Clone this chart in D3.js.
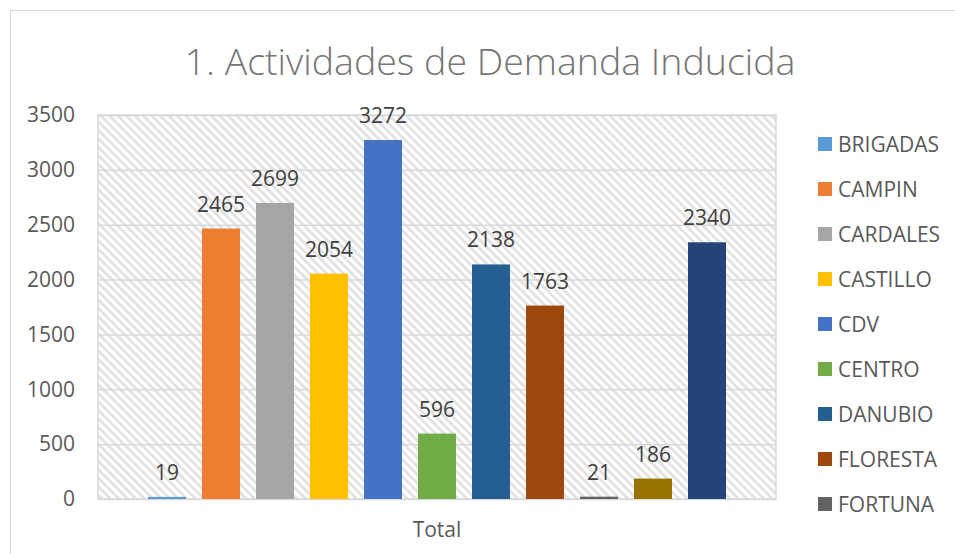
<!DOCTYPE html>
<html>
<head>
<meta charset="utf-8">
<script src="https://cdn.jsdelivr.net/npm/d3@7"></script>
<style>
  body { margin: 0; background: #fff; }
  text { font-family: "Open Sans", sans-serif; }
</style>
</head>
<body>
<svg width="955" height="554"></svg>
<script>
// datos
const titulo = "1. Actividades de Demanda Inducida";
const categorias = ["Total"];
const sedes = ["BRIGADAS", "CAMPIN", "CARDALES", "CASTILLO", "CDV", "CENTRO",
  "DANUBIO", "FLORESTA", "FORTUNA", "SEDE 10", "SEDE 11"];
const valores = [19, 2465, 2699, 2054, 3272, 596, 2138, 1763, 21, 186, 2340];
const colores = ["#5b9bd5", "#ed7d31", "#a5a5a5", "#ffc000", "#4472c4", "#70ad47",
  "#255e91", "#9e480e", "#636363", "#997300", "#264478"];
const yTicks = [0, 500, 1000, 1500, 2000, 2500, 3000, 3500];

const svg = d3.select("svg");

const plot = { left: 98, top: 115, right: 776, bottom: 499 };
const fs = "21px";

// marco del grafico (se sale por la derecha y abajo)
svg.append("rect")
  .attr("x", 10.5).attr("y", 10.5)
  .attr("width", 1000).attr("height", 600)
  .attr("fill", "#fff")
  .attr("stroke", "#d9d9d9");

// trama diagonal del area de trazado
const pattern = svg.append("defs").append("pattern")
  .attr("id", "trama")
  .attr("patternUnits", "userSpaceOnUse")
  .attr("width", 6).attr("height", 6)
  .attr("patternTransform", "rotate(-45)");
pattern.append("rect").attr("width", 6).attr("height", 6).attr("fill", "#fff");
pattern.append("line")
  .attr("x1", 1.5).attr("y1", 0).attr("x2", 1.5).attr("y2", 6)
  .attr("stroke", "#e0e0e0").attr("stroke-width", 2.6);

svg.append("rect")
  .attr("x", plot.left).attr("y", plot.top)
  .attr("width", plot.right - plot.left)
  .attr("height", plot.bottom - plot.top)
  .attr("fill", "url(#trama)");

const y = d3.scaleLinear()
  .domain([0, 3500])
  .range([plot.bottom, plot.top]);

const x0 = d3.scaleBand()
  .domain(categorias)
  .range([plot.left, plot.right])
  .paddingOuter(0.0707);

const x1 = d3.scaleBand()
  .domain(sedes)
  .range([0, x0.bandwidth()])
  .paddingInner(16 / 54)
  .paddingOuter(8 / 54);

// lineas de division
svg.append("g")
  .attr("transform", "translate(" + plot.left + ",0)")
  .call(d3.axisLeft(y).tickValues(yTicks).tickSize(-(plot.right - plot.left)).tickFormat(""))
  .call(g => g.select(".domain").remove())
  .selectAll("line")
  .attr("stroke", "#d9d9d9")
  .attr("stroke-width", 1.5);

// borde del area de trazado
svg.append("rect")
  .attr("x", plot.left).attr("y", plot.top)
  .attr("width", plot.right - plot.left)
  .attr("height", plot.bottom - plot.top)
  .attr("fill", "none")
  .attr("stroke", "#d9d9d9")
  .attr("stroke-width", 1.5);

// eje y
const yAxis = svg.append("g")
  .attr("transform", "translate(" + plot.left + ",0)")
  .call(d3.axisLeft(y).tickValues(yTicks).tickFormat(d3.format("d")).tickSize(0).tickPadding(23));
yAxis.select(".domain").remove();
yAxis.selectAll("text")
  .style("font-size", fs)
  .style("font-family", "'Open Sans', sans-serif")
  .attr("fill", "#595959");

// eje x
const xAxis = svg.append("g")
  .attr("transform", "translate(0," + plot.bottom + ")")
  .call(d3.axisBottom(x0).tickSize(0).tickPadding(23));
xAxis.select(".domain").remove();
xAxis.selectAll("text")
  .style("font-size", fs)
  .style("font-family", "'Open Sans', sans-serif")
  .attr("fill", "#595959");

// barras
const grupo = svg.append("g")
  .attr("transform", "translate(" + x0(categorias[0]) + ",0)");

grupo.selectAll(".barra")
  .data(sedes)
  .enter()
  .append("rect")
  .classed("barra", true)
  .attr("x", function(d) { return x1(d); })
  .attr("y", function(d, i) { return y(valores[i]); })
  .attr("width", x1.bandwidth())
  .attr("height", function(d, i) { return y(0) - y(valores[i]); })
  .attr("fill", function(d, i) { return colores[i]; });

grupo.selectAll(".etiqueta")
  .data(sedes)
  .enter()
  .append("text")
  .classed("etiqueta", true)
  .attr("x", function(d) { return x1(d) + x1.bandwidth() / 2; })
  .attr("y", function(d, i) { return y(valores[i]) - 17; })
  .attr("text-anchor", "middle")
  .attr("fill", "#404040")
  .style("font-size", fs)
  .text(function(d, i) { return valores[i]; });

// titulo
svg.append("text")
  .attr("x", 490)
  .attr("y", 75)
  .attr("text-anchor", "middle")
  .attr("fill", "#757575")
  .style("font-size", "37.5px")
  .style("font-weight", 300)
  .text(titulo);

// leyenda (Excel la corta cuando no cabe)
const leyenda = svg.append("g")
  .selectAll(".item")
  .data(sedes.filter(function(d, i) { return 144 + 45 * i < 530; }))
  .enter()
  .append("g")
  .classed("item", true)
  .attr("transform", function(d, i) { return "translate(818," + (144 + 45 * i) + ")"; });

leyenda.append("rect")
  .attr("y", -7)
  .attr("width", 14).attr("height", 14)
  .attr("fill", function(d, i) { return colores[i]; });

leyenda.append("text")
  .attr("x", 20)
  .attr("y", 7.5)
  .attr("fill", "#595959")
  .style("font-size", fs)
  .text(function(d) { return d; });
</script>
</body>
</html>
